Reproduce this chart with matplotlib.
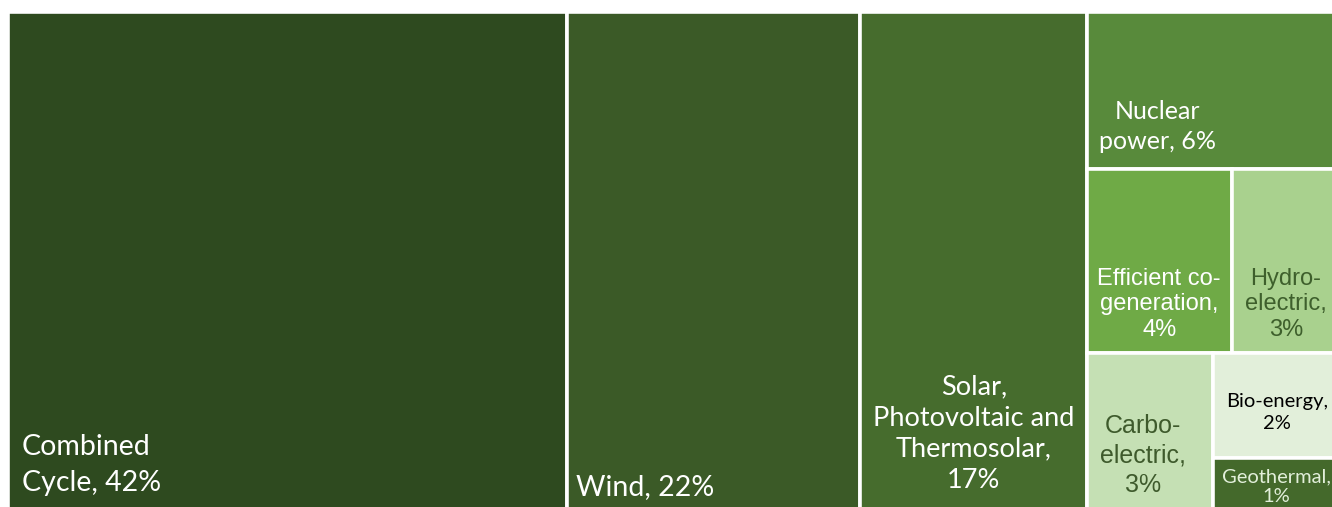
import matplotlib.pyplot as plt
from matplotlib.patches import Rectangle

# share of installed capacity, percent
labels = ["Combined\nCycle, 42%", "Wind, 22%", "Solar,\nPhotovoltaic and\nThermosolar,\n17%",
          "Nuclear\npower, 6%", "Efficient co-\ngeneration,\n4%", "Hydro-\nelectric,\n3%",
          "Carbo-\nelectric,\n3%", "Bio-energy,\n2%", "Geothermal,\n1%"]
values = [42, 22, 17, 6, 4, 3, 3, 2, 1]

fills = ["#2E4A1F", "#3B5A27", "#466C2D", "#588A3B", "#6FAA46",
         "#A9D18E", "#C5E0B4", "#E2EFDA", "#44692B"]
tcolors = ["white", "white", "white", "white", "white",
           "#3E5F2C", "#3E5A2C", "black", "#E2EFDA"]

total = float(sum(values))
H = 100.0

# treemap layout (same nesting as the excel chart)
rects = []
x = 0.0
for v in values[:3]:
    w = v / total * 100
    rects.append((x, 0.0, w, H))
    x += w
rw = 100 - x
rest = sum(values[3:])
# nuclear on top
hn = values[3] / rest * H
rects.append((x, H - hn, rw, hn))
# efficient + hydro row
hr = (values[4] + values[5]) / rest * H
y0 = H - hn - hr
we = values[4] / (values[4] + values[5]) * rw
rects.append((x, y0, we, hr))
rects.append((x + we, y0, rw - we, hr))
# carbo + (bio / geo)
hb = y0
s3 = values[6] + values[7] + values[8]
wc = values[6] / s3 * rw
rects.append((x, 0.0, wc, hb))
hbio = values[7] / (values[7] + values[8]) * hb
rects.append((x + wc, hb - hbio, rw - wc, hbio))
rects.append((x + wc, 0.0, rw - wc, hb - hbio))

fig = plt.figure(figsize=(13.32, 5.07), dpi=100)
ax = fig.add_axes([0, 0, 1, 1])
ax.set_xlim(-8 / 13.32, (1332 - 8) / 13.32)
ax.set_ylim(0.6, 102.4)
ax.axis("off")

for (rx, ry, rw_, rh), c in zip(rects, fills):
    ax.add_patch(Rectangle((rx, ry), rw_, rh, facecolor=c, edgecolor="white", linewidth=2.6))

# label placement: (ha, x offset as fraction of tile width, y centre in data units)
calibri = ["Lato", "DejaVu Sans"]
arial = ["Liberation Sans", "DejaVu Sans"]
opts = [
    ("left", None, 9.0, 20.5, 1.45, calibri),
    ("left", None, 4.6, 20.5, 1.45, calibri),
    ("center", 0.5, 15.3, 19.5, 1.3, calibri),
    ("center", 0.28, 77.0, 18, 1.36, calibri),
    ("center", 0.5, 41.3, 17, 1.2, arial),
    ("center", 0.5, 41.3, 17, 1.2, arial),
    ("center", 0.44, 11.0, 18, 1.28, arial),
    ("center", 0.5, 19.5, 14.5, 1.34, calibri),
    ("center", 0.5, 4.6, 14.5, 1.2, calibri),
]
for (rx, ry, rw_, rh), lab, tc, (ha, fx, yc, fs, ls, fam) in zip(rects, labels, tcolors, opts):
    tx = rx + 14 / 13.32 if fx is None else rx + fx * rw_
    if ha == "left" and rx > 0:
        tx = rx + 9 / 13.32
    ax.text(tx, yc, lab, ha=ha, va="center", color=tc, fontsize=fs,
            linespacing=ls, family=fam, multialignment="center" if ha == "center" else "left")

fig.savefig("out.png", dpi=100, facecolor="white")
